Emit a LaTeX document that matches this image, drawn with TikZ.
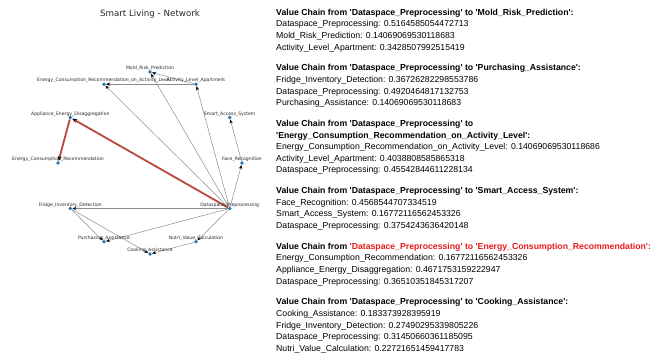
\documentclass[tikz,border=0pt]{standalone}
\usepackage{fontspec}
\newfontfamily\arialf{Liberation Sans}
\newfontfamily\dejavu{DejaVu Sans}
\usetikzlibrary{arrows.meta,backgrounds}
\definecolor{nodeblue}{HTML}{1F77B4}
\definecolor{edgegray}{HTML}{8C8C8C}
\definecolor{pathred}{RGB}{185,70,60}
\definecolor{hlred}{RGB}{232,25,25}
\tikzset{
 gnode/.style={circle,fill=nodeblue,inner sep=0pt,minimum size=3.8pt},
 glabel/.style={font=\dejavu\fontsize{4.6}{5}\selectfont,text=black!85,inner sep=0pt,anchor=center},
 gedge/.style={draw=edgegray,line width=0.5pt,-{Stealth[length=4pt,width=3.2pt,color=black]}},
 redge/.style={draw=pathred,line width=1.8pt,-{Stealth[length=5pt,width=4pt,color=black]}},
 hd/.style={font=\arialf\bfseries\fontsize{8.7}{10}\selectfont,anchor=base west,inner sep=0pt},
 tx/.style={font=\arialf\fontsize{8.7}{10}\selectfont,anchor=base west,inner sep=0pt},
 ttl/.style={font=\dejavu\fontsize{8.7}{10}\selectfont,text=black!85,inner sep=0pt}
}
\begin{document}
\begin{tikzpicture}[x=1pt,y=-1pt]
\useasboundingbox (0,0) rectangle (651,362);
% title
\node[ttl] (title) at (150,14) {Smart Living - Network};
% graph nodes
\node[gnode] (Face)  at (242,163) {};
\node[gnode] (Smart) at (229.7,117.5) {};
\node[gnode] (Act)   at (196,84.2) {};
\node[gnode] (Mold)  at (150,72) {};
\node[gnode] (ECRoA) at (104,84.2) {};
\node[gnode] (App)   at (70.3,117.5) {};
\node[gnode] (ECR)   at (58,163) {};
\node[gnode] (Fridge) at (70.3,208.5) {};
\node[gnode] (Purch) at (104,241.8) {};
\node[gnode] (Cook)  at (150,254) {};
\node[gnode] (Nutri) at (196,241.8) {};
\node[gnode] (Data)  at (229.7,208.5) {};
% edges
\begin{scope}[on background layer]
\draw[gedge] (Data) -- (Mold);
\draw[gedge] (Act) -- (Mold);
\draw[gedge] (Act) -- (ECRoA);
\draw[gedge] (Data) -- (Act);
\draw[gedge] (Data) -- (ECRoA);
\draw[gedge] (Data) -- (Face);
\draw[gedge] (Face) -- (Smart);
\draw[gedge] (Data) -- (Fridge);
\draw[gedge] (Fridge) -- (Purch);
\draw[gedge] (Data) -- (Purch);
\draw[gedge] (Fridge) -- (Cook);
\draw[gedge] (Data) -- (Nutri);
\draw[gedge] (Nutri) -- (Cook);
\draw[redge] (Data) -- (App);
\draw[redge] (App) -- (ECR);
\end{scope}
% labels
\node[glabel] (lFace)  at (242,159.5) {Face\_Recognition};
\node[glabel] (lSmart) at (229.7,114) {Smart\_Access\_System};
\node[glabel] (lAct)   at (196,80.7) {Activity\_Level\_Apartment};
\node[glabel] (lMold)  at (150,68.5) {Mold\_Risk\_Prediction};
\node[glabel] (lECRoA) at (104,80.7) {Energy\_Consumption\_Recommendation\_on\_Activity\_Level};
\node[glabel] (lApp)   at (70.3,114) {Appliance\_Energy\_Disaggregation};
\node[glabel] (lECR)   at (58,159.5) {Energy\_Consumption\_Recommendation};
\node[glabel] (lFridge) at (70.3,205) {Fridge\_Inventory\_Detection};
\node[glabel] (lPurch) at (104,238.3) {Purchasing\_Assistance};
\node[glabel] (lCook)  at (150,250.5) {Cooking\_Assistance};
\node[glabel] (lNutri) at (196,238.3) {Nutri\_Value\_Calculation};
\node[glabel] (lData)  at (229.7,205) {Dataspace\_Preprocessing};
% right text
\node[hd] (h1) at (276,15.2) {Value Chain from 'Dataspace\_Preprocessing' to 'Mold\_Risk\_Prediction':};
\node[tx] (a1) at (276,26.8) {Dataspace\_Preprocessing: 0.5164585054472713};
\node[tx] (a2) at (276,38.4) {Mold\_Risk\_Prediction: 0.14069069530118683};
\node[tx] (a3) at (276,50.0) {Activity\_Level\_Apartment: 0.3428507992515419};
\node[hd] (h2) at (276,70.8) {Value Chain from 'Dataspace\_Preprocessing' to 'Purchasing\_Assistance':};
\node[tx] (b1) at (276,82.4) {Fridge\_Inventory\_Detection: 0.36726282298553786};
\node[tx] (b2) at (276,94.0) {Dataspace\_Preprocessing: 0.4920464817132753};
\node[tx] (b3) at (276,105.6) {Purchasing\_Assistance: 0.14069069530118683};
\node[hd] (h3) at (276,126.4) {Value Chain from 'Dataspace\_Preprocessing' to};
\node[hd] (h3b) at (276,138.0) {'Energy\_Consumption\_Recommendation\_on\_Activity\_Level':};
\node[tx] (c1) at (276,149.6) {Energy\_Consumption\_Recommendation\_on\_Activity\_Level: 0.14069069530118686};
\node[tx] (c2) at (276,161.2) {Activity\_Level\_Apartment: 0.4038808585865318};
\node[tx] (c3) at (276,172.8) {Dataspace\_Preprocessing: 0.45542844611228134};
\node[hd] (h4) at (276,193.6) {Value Chain from 'Dataspace\_Preprocessing' to 'Smart\_Access\_System':};
\node[tx] (d1) at (276,205.2) {Face\_Recognition: 0.4568544707334519};
\node[tx] (d2) at (276,216.8) {Smart\_Access\_System: 0.16772116562453326};
\node[tx] (d3) at (276,228.4) {Dataspace\_Preprocessing: 0.3754243636420148};
\node[hd] (h5) at (276,249.2) {Value Chain from \textcolor{hlred}{'Dataspace\_Preprocessing' to 'Energy\_Consumption\_Recommendation':}};
\node[tx] (e1) at (276,260.8) {Energy\_Consumption\_Recommendation: 0.16772116562453326};
\node[tx] (e2) at (276,272.4) {Appliance\_Energy\_Disaggregation: 0.4671753159222947};
\node[tx] (e3) at (276,284.0) {Dataspace\_Preprocessing: 0.36510351845317207};
\node[hd] (h6) at (276,304.8) {Value Chain from 'Dataspace\_Preprocessing' to 'Cooking\_Assistance':};
\node[tx] (f1) at (276,316.4) {Cooking\_Assistance: 0.183373928395919};
\node[tx] (f2) at (276,328.0) {Fridge\_Inventory\_Detection: 0.27490295339805226};
\node[tx] (f3) at (276,339.6) {Dataspace\_Preprocessing: 0.31450660361185095};
\node[tx] (f4) at (276,351.2) {Nutri\_Value\_Calculation: 0.22721651459417783};
\end{tikzpicture}
\end{document}
